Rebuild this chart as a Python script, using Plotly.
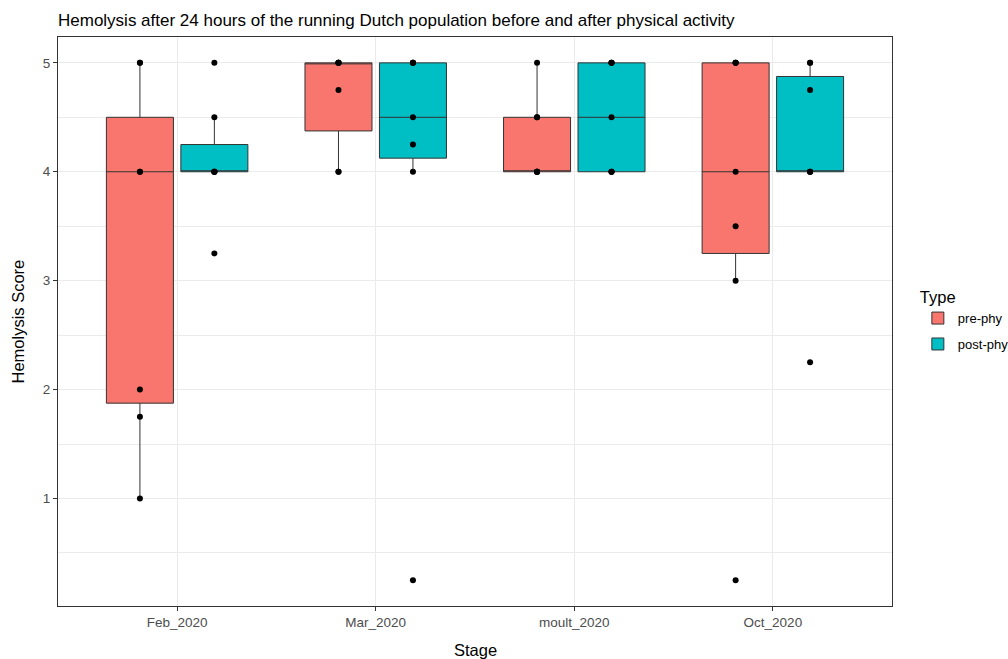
import plotly.graph_objects as go

# Stage categories on the x axis
stages = ["Feb_2020", "Mar_2020", "moult_2020", "Oct_2020"]

# Hemolysis scores per stage, before physical activity
feb_pre = [1, 1.75, 2, 4, 4, 5, 5]
mar_pre = [4, 4, 4.75, 5, 5, 5, 5]
moult_pre = [4, 4, 4, 4, 4.5, 4.5, 5]
oct_pre = [0.25, 3, 3.5, 4, 5, 5, 5]

# Hemolysis scores per stage, after physical activity
feb_post = [3.25, 4, 4, 4, 4, 4.5, 5]
mar_post = [0.25, 4, 4.25, 4.5, 5, 5, 5]
moult_post = [4, 4, 4, 4.5, 5, 5, 5]
oct_post = [2.25, 4, 4, 4, 4.75, 5, 5]

y_ticks = [1, 2, 3, 4, 5]

pre_groups = [feb_pre, mar_pre, moult_pre, oct_pre]
post_groups = [feb_post, mar_post, moult_post, oct_post]


def long_form(groups):
    xs, ys = [], []
    for stage, vals in zip(stages, groups):
        xs += [stage] * len(vals)
        ys += vals
    return xs, ys


FONT = "Liberation Sans, Arial, sans-serif"
EDGE = "#333333"

fig = go.Figure()
for name, groups, fill in [("pre-phy", pre_groups, "#F8766D"),
                           ("post-phy", post_groups, "#00BFC4")]:
    xs, ys = long_form(groups)
    fig.add_trace(go.Box(
        x=xs, y=ys, name=name, legendgroup=name,
        fillcolor=fill,
        line=dict(color=EDGE, width=1),
        whiskerwidth=0,
        quartilemethod="inclusive",
        boxpoints="all", jitter=0, pointpos=0,
        marker=dict(color="black", size=6, line=dict(width=0)),
        hoverinfo="skip",
    ))

fig.update_layout(
    width=1008, height=659,
    margin=dict(l=58, r=116, t=37, b=53, autoexpand=False),
    paper_bgcolor="white", plot_bgcolor="white",
    boxmode="group", boxgap=0.25, boxgroupgap=0.1,
    font=dict(family=FONT, color="#4D4D4D", size=13),
    title=dict(
        text="Hemolysis after 24 hours of the running Dutch population before and after physical activity",
        x=58 / 1008, xanchor="left", xref="container",
        y=1 - 20 / 659, yanchor="middle", yref="container",
        font=dict(family=FONT, size=17, color="black"),
    ),
    showlegend=True,
    legend=dict(
        title=dict(text="Type", font=dict(size=16.5, color="black")),
        font=dict(size=13, color="black"),
        x=1.031, xanchor="left", y=0.57, yanchor="top",
        tracegroupgap=6,
        bgcolor="rgba(0,0,0,0)",
    ),
)

fig.update_xaxes(
    type="category", categoryorder="array", categoryarray=stages,
    range=[-0.6, 3.6],
    showgrid=True, gridcolor="#EBEBEB", gridwidth=1,
    showline=True, linecolor=EDGE, linewidth=1, mirror=True,
    ticks="outside", ticklen=4, tickcolor=EDGE, tickwidth=1,
    tickfont=dict(size=13.5, color="#4D4D4D"),
    zeroline=False,
)
fig.update_yaxes(
    range=[0.0125, 5.2375],
    tickvals=y_ticks,
    showgrid=True, gridcolor="#EBEBEB", gridwidth=1,
    minor=dict(dtick=0.5, tick0=0, showgrid=True, gridcolor="#EBEBEB", gridwidth=0.5, ticks=""),
    showline=True, linecolor=EDGE, linewidth=1, mirror=True,
    ticks="outside", ticklen=4, tickcolor=EDGE, tickwidth=1,
    tickfont=dict(size=13.5, color="#4D4D4D"),
    zeroline=False,
)

# Axis titles
fig.add_annotation(text="Stage", x=0.5, y=0, xref="paper", yref="paper",
                   xanchor="center", yanchor="middle", yshift=-44, showarrow=False,
                   font=dict(family=FONT, size=16.5, color="black"))
fig.add_annotation(text="Hemolysis Score", x=0, y=0.5, xref="paper", yref="paper",
                   xanchor="center", yanchor="middle", xshift=-41, textangle=-90,
                   showarrow=False, font=dict(family=FONT, size=16.5, color="black"))

fig.write_html("out.html")
